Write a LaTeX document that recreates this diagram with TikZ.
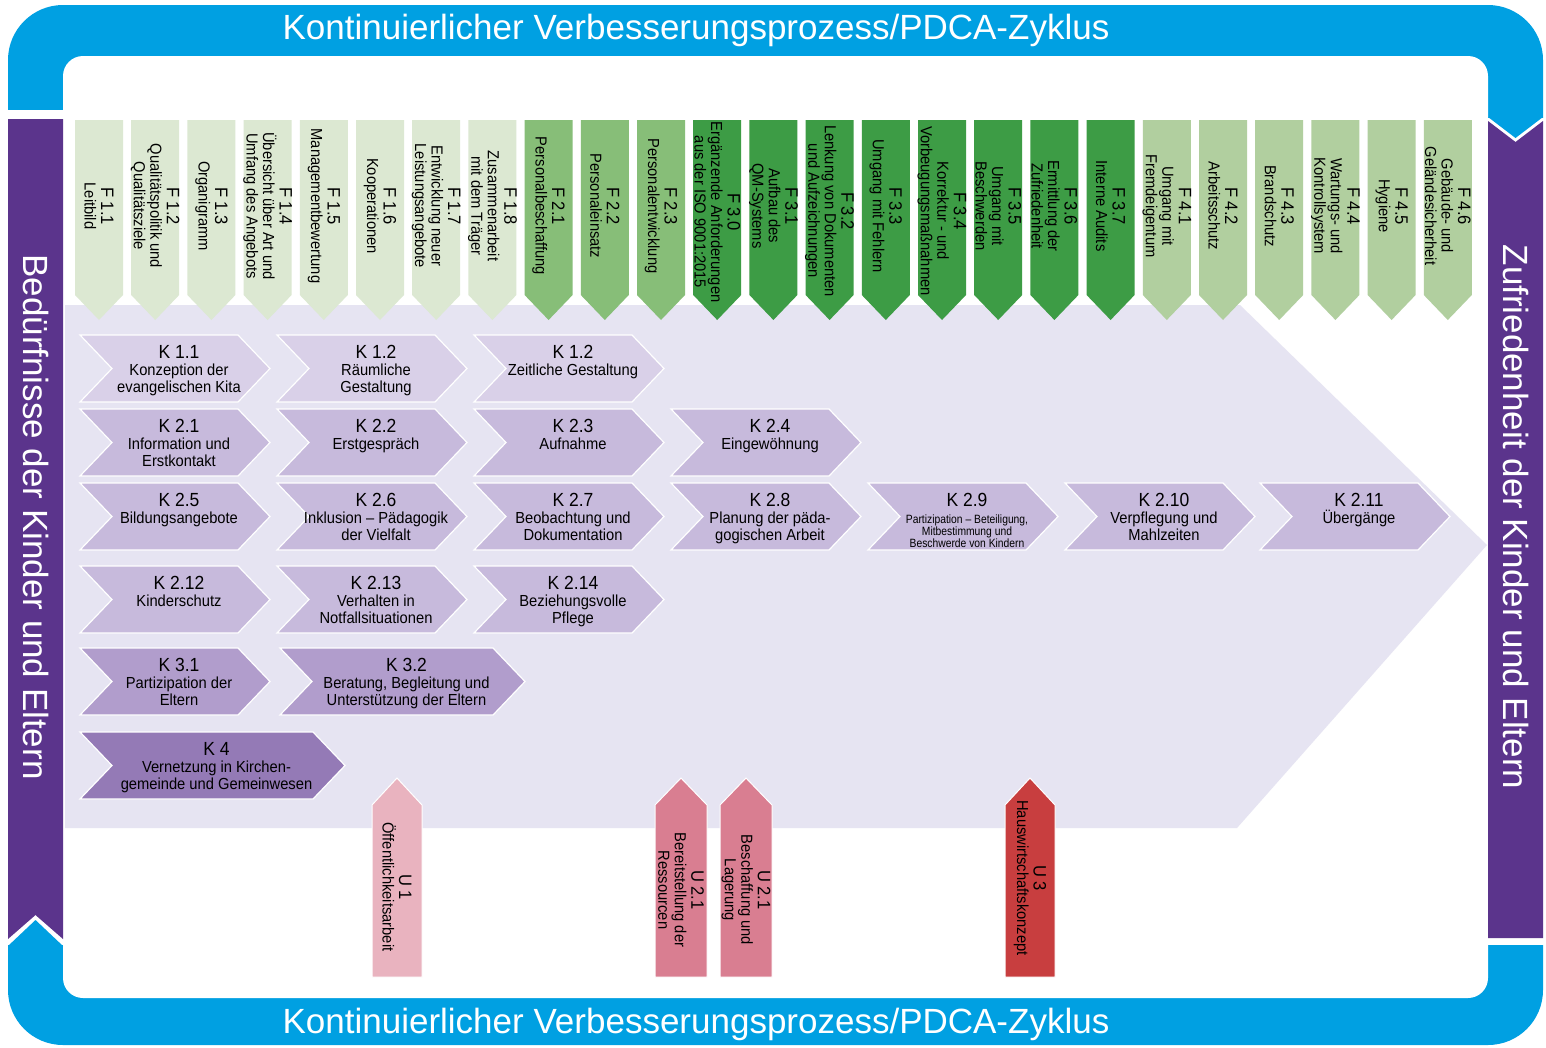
\documentclass[tikz,border=0pt]{standalone}
\usepackage{fontspec}
\setmainfont{Liberation Sans}
\newfontfamily\narrowf{Liberation Sans}[FakeStretch=0.92]
\newfontfamily\narrowg{Liberation Sans}[FakeStretch=0.86]
\definecolor{kblue}{RGB}{0,160,226}
\definecolor{kpurple}{RGB}{91,52,140}
\definecolor{lav}{RGB}{230,228,242}
\definecolor{fA}{RGB}{220,232,210}
\definecolor{fB}{RGB}{135,190,120}
\definecolor{fC}{RGB}{61,156,69}
\definecolor{fD}{RGB}{177,207,159}
\definecolor{kA}{RGB}{217,208,232}
\definecolor{kB}{RGB}{199,186,220}
\definecolor{kC}{RGB}{177,157,204}
\definecolor{kD}{RGB}{148,122,182}
\definecolor{uA}{RGB}{233,179,191}
\definecolor{uB}{RGB}{217,126,145}
\definecolor{uC}{RGB}{200,62,63}
\tikzset{
  ftext/.style={rotate=-90, align=center, inner sep=0pt, font=\narrowf\fontsize{16}{16.5}\selectfont},
  ktext/.style={anchor=north, align=center, inner sep=0pt, font=\narrowf\fontsize{16}{17}\selectfont},
  bigtext/.style={text=white, inner sep=0pt, font=\fontsize{35}{35}\selectfont},
  chev/.style={draw=white, line width=1.2pt},
  uarrow/.style={draw=white, line width=1pt},
}
\newcommand\fid[1]{{\fontsize{18}{16.5}\selectfont #1}}
\newcommand\kid[1]{{\fontsize{19}{17}\selectfont #1}}
\newcommand\Fcol[5][206]{%
  \pgfmathsetmacro\myfx{75+56.2*#3}%
  \fill[#4] (\myfx,120) -- (\myfx+48,120) -- (\myfx+48,295) -- (\myfx+24,320) -- (\myfx,295) -- cycle;
  \node[ftext] (#2) at (\myfx+24,#1) {#5};
}
\newcommand\Kchev[6]{%
  \fill[#5, chev] (#2,#3) -- (#2+#4-32,#3) -- (#2+#4,#3+33.5) -- (#2+#4-32,#3+67) -- (#2,#3+67) -- (#2+32,#3+33.5) -- cycle;
  \node[ktext] (#1) at (#2+#4/2+4,#3+10) {#6};
}
\newcommand\Uarr[6]{%
  \fill[#4, uarrow] (#2,977) -- (#2,805) -- (#2+#3/2,778) -- (#2+#3,805) -- (#2+#3,977) -- cycle;
  \node[ftext] (#1) at (#2+#3/2,#6) {#5};
}
\begin{document}
\begin{tikzpicture}[x=1pt,y=-1pt]
\useasboundingbox (0,0) rectangle (1546,1047);
% blue frame
\fill[kblue, rounded corners=55pt] (8,5) rectangle (1543,1045);
\fill[white, rounded corners=20pt] (63,56) rectangle (1488,998);
\fill[white] (5,110) rectangle (64,945);
\fill[white] (1487,118) rectangle (1546,945);
\fill[kblue] (1488,117) -- (1515.5,138) -- (1543,117) -- cycle;
\fill[kblue] (8,946) -- (35.5,920) -- (63,946) -- cycle;
% purple bars
\fill[kpurple] (8,119) -- (63,119) -- (63,939) -- (35.5,915) -- (8,939) -- cycle;
\fill[kpurple] (1488,121) -- (1515.5,142) -- (1543,121) -- (1543,938) -- (1488,938) -- cycle;
% big lavender arrow
\fill[lav] (65,305) -- (1240,305) -- (1487,545) -- (1237,828) -- (65,828) -- cycle;
% titles
\node[bigtext] (top) at (696,30) {Kontinuierlicher Verbesserungsprozess/PDCA-Zyklus};
\node[bigtext] (bottom) at (696,1024) {Kontinuierlicher Verbesserungsprozess/PDCA-Zyklus};
\node[bigtext, rotate=-90] (left) at (36,517) {Bedürfnisse der Kinder und Eltern};
\node[bigtext, rotate=-90] (right) at (1516,517) {Zufriedenheit der Kinder und Eltern};
% F columns
\Fcol{F11}{0}{fA}{\fid{F 1.1}\\Leitbild}
\Fcol{F12}{1}{fA}{\fid{F 1.2}\\Qualitätspolitik und\\Qualitätsziele}
\Fcol{F13}{2}{fA}{\fid{F 1.3}\\Organigramm}
\Fcol{F14}{3}{fA}{\fid{F 1.4}\\Übersicht über Art und\\Umfang des Angebots}
\Fcol{F15}{4}{fA}{\fid{F 1.5}\\Managementbewertung}
\Fcol{F16}{5}{fA}{\fid{F 1.6}\\Kooperationen}
\Fcol{F17}{6}{fA}{\fid{F 1.7}\\Entwicklung neuer\\Leistungsangebote}
\Fcol{F18}{7}{fA}{\fid{F 1.8}\\Zusammenarbeit\\mit dem Träger}
\Fcol{F21}{8}{fB}{\fid{F 2.1}\\Personalbeschaffung}
\Fcol{F22}{9}{fB}{\fid{F 2.2}\\Personaleinsatz}
\Fcol{F23}{10}{fB}{\fid{F 2.3}\\Personalentwicklung}
\Fcol[212]{F30}{11}{fC}{\fid{F 3.0}\\Ergänzende Anforderungen\\aus der ISO 9001:2015}
\Fcol{F31}{12}{fC}{\fid{F 3.1}\\Aufbau des\\QM-Systems}
\Fcol[211]{F32}{13}{fC}{\fid{F 3.2}\\Lenkung von Dokumenten\\und Aufzeichnungen}
\Fcol{F33}{14}{fC}{\fid{F 3.3}\\Umgang mit Fehlern}
\Fcol[211]{F34}{15}{fC}{\fid{F 3.4}\\Korrektur - und\\Vorbeugungsmaßnahmen}
\Fcol{F35}{16}{fC}{\fid{F 3.5}\\Umgang mit\\Beschwerden}
\Fcol{F36}{17}{fC}{\fid{F 3.6}\\Ermittlung der\\Zufriedenheit}
\Fcol{F37}{18}{fC}{\fid{F 3.7}\\Interne Audits}
\Fcol{F41}{19}{fD}{\fid{F 4.1}\\Umgang mit\\Fremdeigentum}
\Fcol{F42}{20}{fD}{\fid{F 4.2}\\Arbeitsschutz}
\Fcol{F43}{21}{fD}{\fid{F 4.3}\\Brandschutz}
\Fcol{F44}{22}{fD}{\fid{F 4.4}\\Wartungs- und\\Kontrollsystem}
\Fcol{F45}{23}{fD}{\fid{F 4.5}\\Hygiene}
\Fcol{F46}{24}{fD}{\fid{F 4.6}\\Gebäude- und\\Geländesicherheit}
% K chevrons
\Kchev{K11}{80}{335}{190}{kA}{\kid{K 1.1}\\Konzeption der\\evangelischen Kita}
\Kchev{K12}{277}{335}{190}{kA}{\kid{K 1.2}\\Räumliche\\Gestaltung}
\Kchev{K12b}{474}{335}{190}{kA}{\kid{K 1.2}\\Zeitliche Gestaltung}
\Kchev{K21}{80}{409}{190}{kB}{\kid{K 2.1}\\Information und\\Erstkontakt}
\Kchev{K22}{277}{409}{190}{kB}{\kid{K 2.2}\\Erstgespräch}
\Kchev{K23}{474}{409}{190}{kB}{\kid{K 2.3}\\Aufnahme}
\Kchev{K24}{671}{409}{190}{kB}{\kid{K 2.4}\\Eingewöhnung}
\Kchev{K25}{80}{483}{190}{kB}{\kid{K 2.5}\\Bildungsangebote}
\Kchev{K26}{277}{483}{190}{kB}{\kid{K 2.6}\\Inklusion – Pädagogik\\der Vielfalt}
\Kchev{K27}{474}{483}{190}{kB}{\kid{K 2.7}\\Beobachtung und\\Dokumentation}
\Kchev{K28}{671}{483}{190}{kB}{\kid{K 2.8}\\Planung der päda-\\gogischen Arbeit}
\Kchev{K29}{868}{483}{190}{kB}{\kid{K 2.9}\\{\narrowg\fontsize{12}{11.5}\selectfont\begin{tabular}[t]{@{}c@{}}Partizipation – Beteiligung,\\Mitbestimmung und\\Beschwerde von Kindern\end{tabular}}}
\Kchev{K210}{1065}{483}{190}{kB}{\kid{K 2.10}\\Verpflegung und\\Mahlzeiten}
\Kchev{K211}{1260}{483}{190}{kB}{\kid{K 2.11}\\Übergänge}
\Kchev{K212}{80}{566}{190}{kB}{\kid{K 2.12}\\Kinderschutz}
\Kchev{K213}{277}{566}{190}{kB}{\kid{K 2.13}\\Verhalten in\\Notfallsituationen}
\Kchev{K214}{474}{566}{190}{kB}{\kid{K 2.14}\\Beziehungsvolle\\Pflege}
\Kchev{K31}{80}{648}{190}{kC}{\kid{K 3.1}\\Partizipation der\\Eltern}
\Kchev{K32}{280}{648}{245}{kC}{\kid{K 3.2}\\Beratung, Begleitung und\\Unterstützung der Eltern}
\Kchev{K4}{80}{732}{265}{kD}{\kid{K 4}\\Vernetzung in Kirchen-\\gemeinde und Gemeinwesen}
% U arrows
\Uarr{U1}{372}{50}{uA}{\fid{U 1}\\Öffentlichkeitsarbeit}{887}
\Uarr{U21a}{655}{52}{uB}{\fid{U 2.1}\\Bereitstellung der\\Ressourcen}{890}
\Uarr{U21b}{720}{52}{uB}{\fid{U 2.1}\\Beschaffung und\\Lagerung}{890}
\Uarr{U3}{1005}{50}{uC}{\fid{U 3}\\Hauswirtschaftskonzept}{878}
\end{tikzpicture}
\end{document}
